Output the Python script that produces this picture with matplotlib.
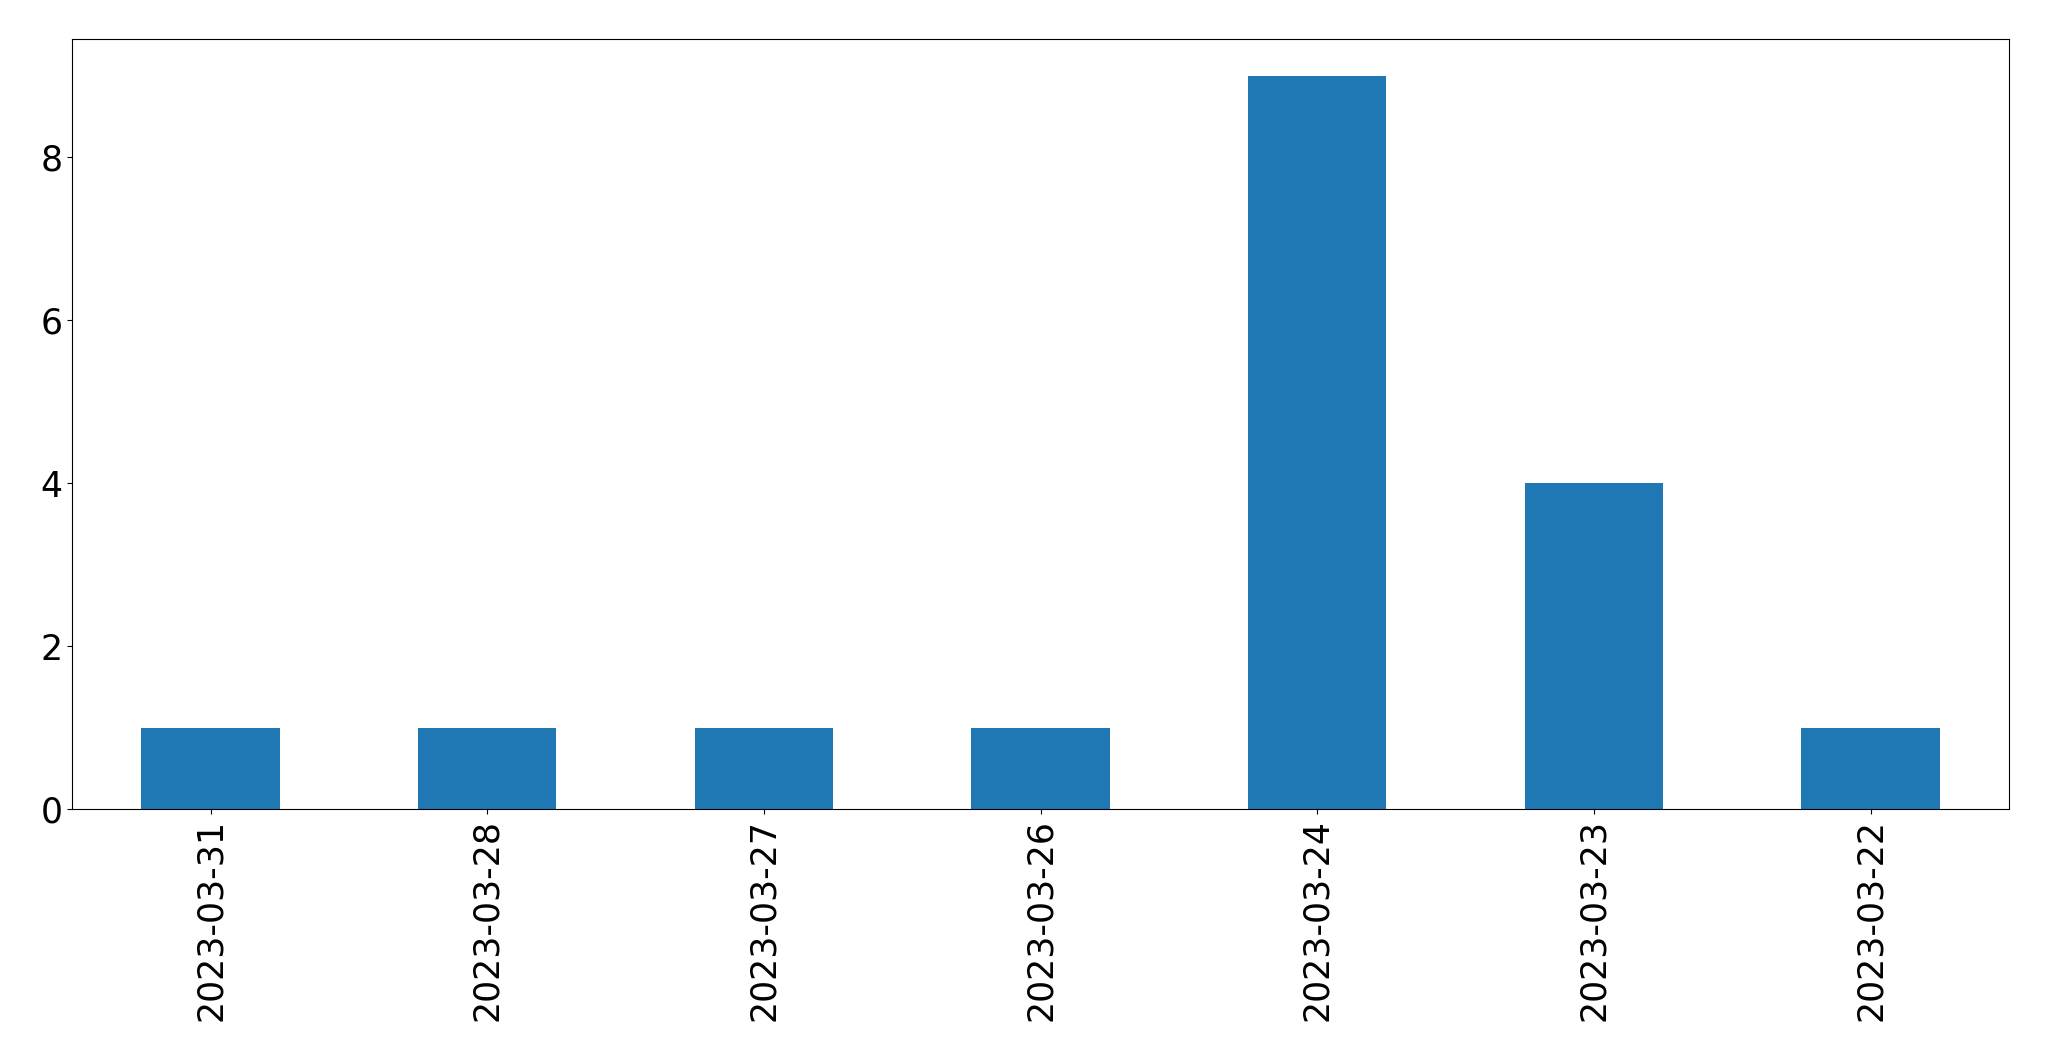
import matplotlib
matplotlib.use("Agg")
import matplotlib.pyplot as plt

dates = ["2023-03-31", "2023-03-28", "2023-03-27", "2023-03-26",
         "2023-03-24", "2023-03-23", "2023-03-22"]
counts = [1, 1, 1, 1, 9, 4, 1]

fig = plt.figure(figsize=(20.49, 10.61), dpi=100)
ax = fig.add_axes([72.3 / 2049, 1 - 809 / 1061, (2009 - 72.3) / 2049, (809 - 39) / 1061])
x = list(range(len(dates)))
ax.bar(x, counts, width=0.5, color="#1f77b4")
ax.set_xlim(-0.5, len(dates) - 0.5)
ax.set_ylim(0, max(counts) * 1.05)
ax.set_xticks(x)
ax.set_xticklabels(dates, rotation=90)
ax.set_yticks([0, 2, 4, 6, 8])
ax.tick_params(labelsize=25)
fig.savefig("out.png", dpi=100)
